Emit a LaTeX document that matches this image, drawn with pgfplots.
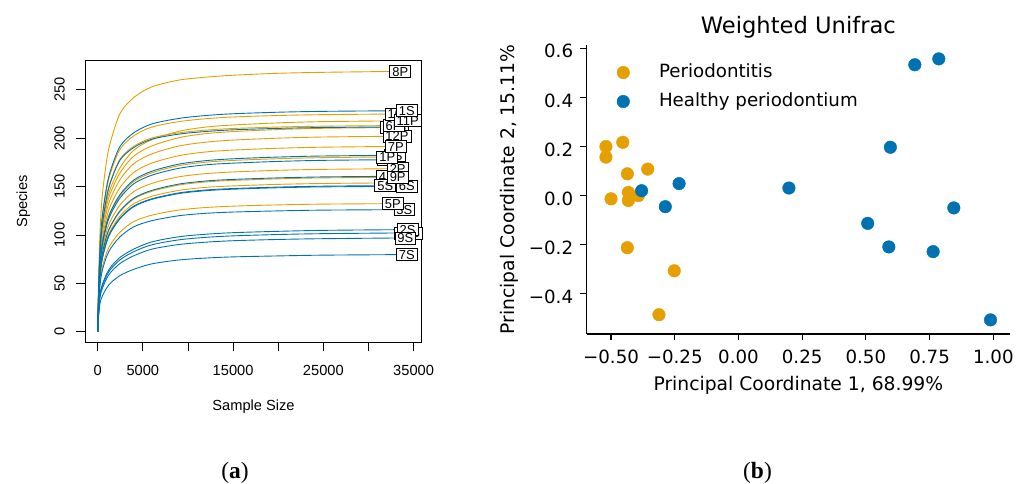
\documentclass[border=0pt]{standalone}
\usepackage{fontspec}
\setmainfont{DejaVu Sans}
\newfontfamily\lib{Liberation Sans}
\newfontfamily\libser{Liberation Serif}
\usepackage{pgfplots}
\pgfplotsset{compat=1.18}
\definecolor{porange}{RGB}{230,159,0}
\definecolor{sblue}{RGB}{0,114,178}
\tikzset{lab/.style={draw=black, fill=white, line width=0.7bp, inner xsep=2.5bp, inner ysep=1.3bp,
  text height=9.4bp, text depth=0bp, font=\lib\fontsize{13}{15}\selectfont},
  tl/.style={inner sep=0pt, font=\fontsize{18.3}{22}\selectfont}}

\begin{document}
\begin{tikzpicture}
\useasboundingbox (0,0) rectangle (1033bp,484bp);

% (a) rarefaction curves
\begin{axis}[
  at={(85.3bp,141.7bp)}, anchor=south west,
  scale only axis, width=336.4bp, height=281.6bp,
  xmin=-1378, xmax=35900, ymin=-10.8, ymax=280,
  clip=false, scaled x ticks=false,
  axis line style={line width=0.8bp},
  tick align=outside, xtick pos=bottom, ytick pos=left,
  major tick length=9bp, tick style={black, line width=0.8bp},
  xtick={0,5000,10000,15000,20000,25000,30000,35000},
  xticklabels={0,5000,,15000,,25000,,35000},
  ytick={0,50,100,150,200,250},
  yticklabels={0,50,100,150,200,250},
  tick label style={font=\lib\fontsize{14.7}{17}\selectfont, inner sep=0pt},
  xticklabel style={anchor=base, yshift=-24bp},
  yticklabel style={xshift=-11.8bp, rotate=90, anchor=base},
  label style={font=\lib\fontsize{14.7}{17}\selectfont},
  xlabel={Sample Size},
  xlabel style={at={(axis description cs:0.5,0)}, anchor=base, yshift=-68.1bp},
  ylabel={Species},
  ylabel style={at={(axis description cs:-0.1727,0.5)}, anchor=base},
  every axis plot/.append style={line width=0.9bp, smooth},
]
% periodontitis
\addplot[porange] coordinates {(0,0)(100,54)(250,102)(500,140)(1000,178)(1500,199)(2500,226)(4000,242)(6000,253)(9000,260)(12000,263)(15000,265)(20000,267)(25000,268)(33520,269)};
\addplot[porange] coordinates {(0,0)(100,45)(250,85.5)(500,117)(1000,148.5)(1500,166.5)(2500,189)(4000,202.5)(6000,211.5)(9000,217.1)(12000,220.1)(15000,221.9)(20000,223.4)(25000,224.3)(33410,225)};
\addplot[porange] coordinates {(0,0)(100,43.6)(250,82.8)(500,109)(1000,135.2)(1500,150.4)(2500,170)(4000,187.5)(6000,198.4)(9000,207.1)(12000,211.5)(15000,213.6)(20000,215.8)(25000,217.1)(34340,218)};
\addplot[porange] coordinates {(0,0)(100,42.6)(250,80.9)(500,110.8)(1000,140.6)(1500,157.6)(2500,178.9)(4000,191.7)(6000,200.2)(9000,205.5)(12000,208.3)(15000,210)(20000,211.5)(25000,212.4)(32780,213)};
\addplot[porange] coordinates {(0,0)(100,42.2)(250,80.2)(500,105.5)(1000,130.8)(1500,145.6)(2500,164.6)(4000,181.5)(6000,192)(9000,200.5)(12000,204.7)(15000,206.8)(20000,208.9)(25000,210.2)(33000,211)};
\addplot[porange] coordinates {(0,0)(100,40.4)(250,76.8)(500,101)(1000,125.2)(1500,139.4)(2500,157.6)(4000,173.7)(6000,183.8)(9000,191.9)(12000,195.9)(15000,198)(20000,200)(25000,201.2)(33150,202)};
\addplot[porange] coordinates {(0,0)(100,38.3)(250,72.8)(500,95.8)(1000,118.7)(1500,132.1)(2500,149.4)(4000,164.7)(6000,174.3)(9000,181.9)(12000,185.8)(15000,187.7)(20000,189.6)(25000,190.7)(33040,191.5)};
\addplot[porange] coordinates {(0,0)(100,36.1)(250,68.6)(500,90.3)(1000,112)(1500,124.6)(2500,140.9)(4000,155.3)(6000,164.3)(9000,171.6)(12000,175.2)(15000,177)(20000,178.8)(25000,179.9)(32080,180.6)};
\addplot[porange] coordinates {(0,0)(100,33.7)(250,64)(500,84.3)(1000,104.5)(1500,116.3)(2500,131.4)(4000,144.9)(6000,153.3)(9000,160.1)(12000,163.4)(15000,165.1)(20000,166.8)(25000,167.8)(33240,168.5)};
\addplot[porange] coordinates {(0,0)(100,31.9)(250,60.6)(500,79.8)(1000,99)(1500,110.1)(2500,124.5)(4000,137.3)(6000,145.2)(9000,151.6)(12000,154.8)(15000,156.4)(20000,158)(25000,159)(33240,159.6)};
\addplot[porange] coordinates {(0,0)(100,30.8)(250,58.4)(500,76.9)(1000,95.4)(1500,106.1)(2500,120)(4000,132.3)(6000,140)(9000,146.1)(12000,149.2)(15000,150.7)(20000,152.3)(25000,153.2)(32000,153.8)};
\addplot[porange] coordinates {(0,0)(100,26.5)(250,50.3)(500,66.2)(1000,82.1)(1500,91.4)(2500,103.3)(4000,113.9)(6000,120.5)(9000,125.8)(12000,128.4)(15000,129.8)(20000,131.1)(25000,131.9)(32710,132.4)};
% healthy
\addplot[sblue] coordinates {(0,0)(100,45.7)(250,86.8)(500,118.8)(1000,150.7)(1500,169)(2500,191.9)(4000,205.6)(6000,214.7)(9000,220.4)(12000,223.4)(15000,225.2)(20000,226.8)(25000,227.7)(34260,228.4)};
\addplot[sblue] coordinates {(0,0)(100,42.3)(250,80.4)(500,110)(1000,139.7)(1500,156.6)(2500,177.7)(4000,190.4)(6000,198.9)(9000,204.2)(12000,206.9)(15000,208.6)(20000,210.1)(25000,211)(32900,211.6)};
\addplot[sblue] coordinates {(0,0)(100,36.5)(250,69.3)(500,91.2)(1000,113)(1500,125.8)(2500,142.2)(4000,156.8)(6000,165.9)(9000,173.2)(12000,176.8)(15000,178.7)(20000,180.5)(25000,181.6)(32900,182.3)};
\addplot[sblue] coordinates {(0,0)(100,35.6)(250,67.6)(500,88.9)(1000,110.2)(1500,122.7)(2500,138.7)(4000,152.9)(6000,161.8)(9000,168.9)(12000,172.5)(15000,174.2)(20000,176)(25000,177.1)(32500,177.8)};
\addplot[sblue] coordinates {(0,0)(100,32.1)(250,61)(500,80.3)(1000,99.6)(1500,110.8)(2500,125.3)(4000,138.1)(6000,146.1)(9000,152.6)(12000,155.8)(15000,157.4)(20000,159)(25000,160)(32040,160.6)};
\addplot[sblue] coordinates {(0,0)(100,30.2)(250,57.4)(500,75.5)(1000,93.6)(1500,104.2)(2500,117.8)(4000,129.9)(6000,137.4)(9000,143.5)(12000,146.5)(15000,148)(20000,149.5)(25000,150.4)(31860,151)};
\addplot[sblue] coordinates {(0,0)(100,30.1)(250,57.1)(500,75.2)(1000,93.2)(1500,103.7)(2500,117.2)(4000,129.3)(6000,136.8)(9000,142.8)(12000,145.8)(15000,147.3)(20000,148.8)(25000,149.7)(34260,150.3)};
\addplot[sblue] coordinates {(0,0)(100,25.2)(250,48)(500,63.1)(1000,78.2)(1500,87.1)(2500,98.4)(4000,108.5)(6000,114.8)(9000,119.9)(12000,122.4)(15000,123.7)(20000,124.9)(25000,125.7)(33970,126.2)};
\addplot[sblue] coordinates {(0,0)(100,21.1)(250,39.1)(500,48.6)(1000,60.2)(1500,67.6)(2500,77.1)(4000,85.5)(6000,92.9)(9000,98.2)(12000,100.8)(15000,102.4)(20000,103.8)(25000,104.8)(34340,105.6)};
\addplot[sblue] coordinates {(0,0)(100,20.4)(250,37.8)(500,47)(1000,58.3)(1500,65.4)(2500,74.6)(4000,82.8)(6000,89.9)(9000,95)(12000,97.6)(15000,99.1)(20000,100.5)(25000,101.4)(34450,102.2)};
\addplot[sblue] coordinates {(0,0)(100,19.4)(250,35.9)(500,44.6)(1000,55.3)(1500,62.1)(2500,70.8)(4000,78.6)(6000,85.4)(9000,90.2)(12000,92.6)(15000,94.1)(20000,95.4)(25000,96.2)(34080,97)};
\addplot[sblue] coordinates {(0,0)(100,16)(250,29.5)(500,36.7)(1000,45.5)(1500,51.1)(2500,58.3)(4000,64.6)(6000,70.2)(9000,74.2)(12000,76.2)(15000,77.4)(20000,78.4)(25000,79.2)(34260,79.8)};
% sample labels, later ones on top
\node[lab] at (axis cs:33000,211) {3P};
\node[lab] at (axis cs:32900,211.6) {10S};
\node[lab] at (axis cs:32500,177.8) {11S};
\node[lab] at (axis cs:32000,153.8) {4P};
\node[lab] at (axis cs:34450,102.2) {12S};
\node[lab] at (axis cs:34340,105.6) {2S};
\node[lab] at (axis cs:34080,97) {9S};
\node[lab] at (axis cs:34260,79.8) {7S};
\node[lab] at (axis cs:33970,126.2) {3S};
\node[lab] at (axis cs:32710,132.4) {5P};
\node[lab] at (axis cs:32040,160.6) {4S};
\node[lab] at (axis cs:33240,168.5) {2P};
\node[lab] at (axis cs:31860,151) {5S};
\node[lab] at (axis cs:34260,150.3) {6S};
\node[lab] at (axis cs:33240,159.6) {9P};
\node[lab] at (axis cs:32900,182.3) {8S};
\node[lab] at (axis cs:32080,180.6) {1P};
\node[lab] at (axis cs:33150,202) {12P};
\node[lab] at (axis cs:33040,191.5) {7P};
\node[lab] at (axis cs:32780,213) {6P};
\node[lab] at (axis cs:33410,225) {10P};
\node[lab] at (axis cs:34340,218) {11P};
\node[lab] at (axis cs:34260,228.4) {1S};
\node[lab] at (axis cs:33520,269) {8P};
\end{axis}

% (b) PCoA
\begin{axis}[
  at={(586.7bp,150bp)}, anchor=south west,
  scale only axis, width=423.3bp, height=289bp,
  xmin=-0.5955, xmax=1.0655, ymin=-0.5635, ymax=0.6135,
  clip=false,
  axis x line=bottom, axis y line=left,
  axis line style={-, line width=1.1bp},
  every outer x axis line/.append style={-},
  every outer y axis line/.append style={-},
  tick align=outside, major tick length=6.4bp, tick style={black, line width=1.1bp},
  xtick={-0.5,-0.25,0,0.25,0.5,0.75,1},
  ytick={-0.4,-0.2,0,0.2,0.4,0.6},
  xticklabels={}, yticklabels={},
  label style={font=\fontsize{18.8}{22}\selectfont},
  xlabel={Principal Coordinate 1, 68.99\%},
  xlabel style={at={(axis description cs:0.5,0)}, anchor=base, yshift=-56.7bp},
  ylabel={Principal Coordinate 2, 15.11\%},
  ylabel style={at={(axis description cs:-0.1694,0.5)}, anchor=base},
  title={Weighted Unifrac},
  title style={at={(axis description cs:0.5,1)}, anchor=base, yshift=5.7bp, font=\fontsize{22.7}{26}\selectfont},
  legend style={at={(axis description cs:0.0716,0.935)}, anchor=north west, draw=none, fill=none,
    inner sep=0pt, outer sep=0pt, row sep=11.5bp, font=\fontsize{18.3}{22}\selectfont,
    nodes={inner sep=0pt, text height=13.5bp, text depth=4bp},
    /tikz/every odd column/.style={column sep=29.4bp}},
  legend cell align=left,
  legend image code/.code={\draw[#1] plot coordinates {(0bp,0bp)};},
]
\addplot[only marks, mark=*, mark size=6.3bp, color=porange] coordinates {
(-0.520,0.200) (-0.520,0.157) (-0.454,0.217) (-0.356,0.108) (-0.436,0.089) (-0.432,0.013)
(-0.500,-0.013) (-0.432,-0.020) (-0.393,0.000) (-0.436,-0.212) (-0.252,-0.306) (-0.312,-0.485)};
\addlegendentry{Periodontitis}
\addplot[only marks, mark=*, mark size=6.3bp, color=sblue] coordinates {
(-0.380,0.020) (-0.233,0.049) (-0.287,-0.045) (0.198,0.031) (0.507,-0.113) (0.596,0.197)
(0.590,-0.209) (0.692,0.533) (0.786,0.557) (0.845,-0.050) (0.764,-0.228) (0.989,-0.506)};
\addlegendentry{Healthy periodontium}
% tick labels, matplotlib style
\foreach \v/\t in {-0.5/−0.50,-0.25/−0.25,0/0.00,0.25/0.25,0.5/0.50,0.75/0.75,1/1.00}
  {\edef\tmp{\noexpand\node[tl, anchor=base, yshift=-29.4bp] at (axis cs:\v,-0.5635) {\t};}\tmp}
\foreach \v/\t in {-0.4/−0.4,-0.2/−0.2,0/0.0,0.2/0.2,0.4/0.4,0.6/0.6}
  {\edef\tmp{\noexpand\node[tl, anchor=base east, xshift=-13.4bp, yshift=-9.6bp] at (axis cs:-0.5955,\v) {\t};}\tmp}
\end{axis}

\node[font=\libser\fontsize{23.5}{28}\selectfont] at (235bp,11.5bp) {(\textbf{a})};
\node[font=\libser\fontsize{23.5}{28}\selectfont] at (757.5bp,11.5bp) {(\textbf{b})};
\end{tikzpicture}
\end{document}
